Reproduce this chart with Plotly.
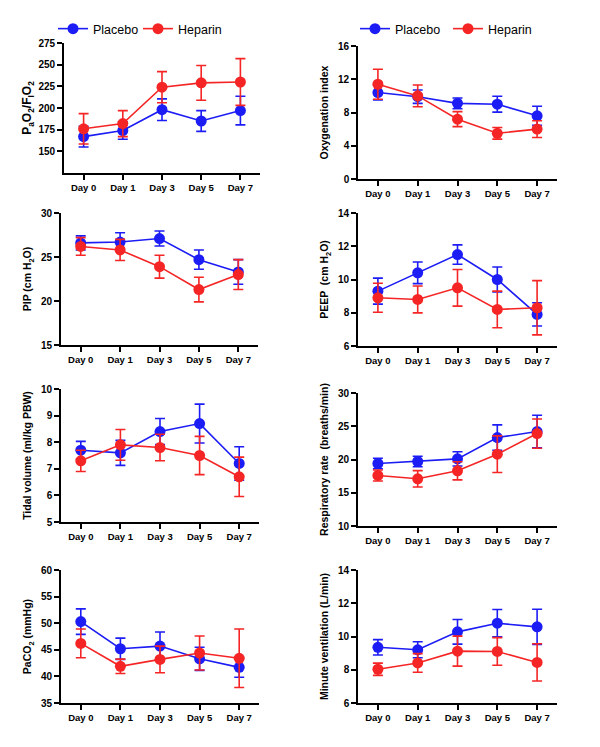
import plotly.graph_objects as go

days = ["Day 0", "Day 1", "Day 3", "Day 5", "Day 7"]

pf_placebo = [167, 174, 198, 185, 197]
pf_placebo_err = [12, 10, 12.5, 12, 16.5]
pf_heparin = [176, 182, 224, 229, 230]
pf_heparin_err = [17.5, 15, 18, 20, 27]

oi_placebo = [10.4, 9.9, 9.1, 9.0, 7.6]
oi_placebo_err = [0.9, 0.8, 0.65, 0.95, 1.15]
oi_heparin = [11.4, 10.0, 7.2, 5.5, 6.0]
oi_heparin_err = [1.8, 1.3, 0.9, 0.7, 1.0]

pip_placebo = [26.6, 26.7, 27.1, 24.7, 23.3]
pip_placebo_err = [0.8, 1.05, 0.85, 1.1, 1.4]
pip_heparin = [26.2, 25.8, 23.9, 21.3, 23.0]
pip_heparin_err = [1.0, 1.2, 1.3, 1.4, 1.7]

peep_placebo = [9.3, 10.4, 11.5, 10.0, 7.9]
peep_placebo_err = [0.78, 0.65, 0.58, 0.75, 0.7]
peep_heparin = [8.9, 8.8, 9.5, 8.2, 8.3]
peep_heparin_err = [0.87, 0.81, 1.1, 1.1, 1.63]

vt_placebo = [7.7, 7.6, 8.4, 8.7, 7.2]
vt_placebo_err = [0.33, 0.47, 0.49, 0.73, 0.63]
vt_heparin = [7.3, 7.9, 7.8, 7.5, 6.7]
vt_heparin_err = [0.4, 0.58, 0.5, 0.72, 0.74]

rr_placebo = [19.4, 19.7, 20.1, 23.3, 24.2]
rr_placebo_err = [0.78, 0.8, 1.07, 1.9, 2.45]
rr_heparin = [17.6, 17.1, 18.3, 20.8, 23.9]
rr_heparin_err = [0.83, 1.23, 1.37, 2.75, 2.2]

paco2_placebo = [50.3, 45.2, 45.7, 43.3, 41.7]
paco2_placebo_err = [2.4, 2.0, 2.64, 2.17, 1.85]
paco2_heparin = [46.2, 41.9, 43.2, 44.4, 43.4]
paco2_heparin_err = [2.7, 1.35, 2.5, 3.2, 5.5]

mv_placebo = [9.35, 9.2, 10.28, 10.8, 10.58]
mv_placebo_err = [0.46, 0.48, 0.74, 0.82, 1.06]
mv_heparin = [8.03, 8.41, 9.12, 9.1, 8.44]
mv_heparin_err = [0.37, 0.56, 0.9, 0.83, 1.12]

# The page body has an 8px default margin, so the figure is drawn
# 8px in from the top-left corner of the 600x747 window.
OFF = 8
W, H = 600 - OFF, 747 - OFF
BLUE = "#1c1cf5"
RED = "#f52525"
FONT = "Arial, Liberation Sans, sans-serif"


def xd(px):
    return (px - OFF) / W


def yd(py):
    return 1 - (py - OFF) / H


panels = [
    dict(title="P<sub>a</sub>O<sub>2</sub>/F<sub>I</sub>O<sub>2</sub>", rng=[125, 275],
         ticks=[150, 175, 200, 225, 250, 275], p=pf_placebo, pe=pf_placebo_err,
         h=pf_heparin, he=pf_heparin_err, box=(64, 260, 43, 173), tsize=12, so=4,
         legends=("legend", "legend3")),
    dict(title="Oxygenation index", rng=[0, 16], ticks=[0, 4, 8, 12, 16],
         p=oi_placebo, pe=oi_placebo_err, h=oi_heparin, he=oi_heparin_err,
         box=(358, 557, 46, 179), tsize=10.5, so=7, legends=("legend2", "legend4")),
    dict(title="PIP (cm H<sub>2</sub>O)", rng=[15, 30], ticks=[15, 20, 25, 30],
         p=pip_placebo, pe=pip_placebo_err, h=pip_heparin, he=pip_heparin_err,
         box=(61, 258, 213, 345), tsize=10.5, so=7),
    dict(title="PEEP  (cm H<sub>2</sub>O)", rng=[6, 14], ticks=[6, 8, 10, 12, 14],
         p=peep_placebo, pe=peep_placebo_err, h=peep_heparin, he=peep_heparin_err,
         box=(358, 557, 213, 346), tsize=10.5, so=7),
    dict(title="Tidal volume (ml/kg PBW)", rng=[5, 10], ticks=[5, 6, 7, 8, 9, 10],
         p=vt_placebo, pe=vt_placebo_err, h=vt_heparin, he=vt_heparin_err,
         box=(61, 259, 389, 522), tsize=10.5, so=7),
    dict(title="Respiratory rate  (breaths/min)", rng=[10, 30], ticks=[10, 15, 20, 25, 30],
         p=rr_placebo, pe=rr_placebo_err, h=rr_heparin, he=rr_heparin_err,
         box=(358, 557, 393, 526), tsize=10.5, so=7),
    dict(title="PaCO<sub>2</sub> (mmHg)", rng=[35, 60], ticks=[35, 40, 45, 50, 55, 60],
         p=paco2_placebo, pe=paco2_placebo_err, h=paco2_heparin, he=paco2_heparin_err,
         box=(61, 259, 570, 703), tsize=10.5, so=7),
    dict(title="Minute ventilation (L/min)", rng=[6, 14], ticks=[6, 8, 10, 12, 14],
         p=mv_placebo, pe=mv_placebo_err, h=mv_heparin, he=mv_heparin_err,
         box=(358, 557, 570, 703), tsize=10.5, so=7),
]

fig = go.Figure()
layout = {}

for i, pn in enumerate(panels):
    k = "" if i == 0 else str(i + 1)
    xa, ya = "x" + k, "y" + k
    x0, x1, y0, y1 = pn["box"]
    legs = pn.get("legends", (None, None))
    for (name, vals, errs, col), leg in zip(
            (("Placebo", pn["p"], pn["pe"], BLUE), ("Heparin", pn["h"], pn["he"], RED)),
            legs):
        tr = dict(
            x=days, y=vals, xaxis=xa, yaxis=ya, name=name, mode="lines+markers",
            line=dict(color=col, width=1.6),
            marker=dict(color=col, size=11, line=dict(width=0)),
            error_y=dict(type="data", array=errs, visible=True, color=col,
                         thickness=1.6, width=5),
            showlegend=leg is not None,
        )
        if leg is not None:
            tr["legend"] = leg
        fig.add_trace(go.Scatter(**tr))
    layout["xaxis" + k] = dict(
        domain=[xd(x0), xd(x1)], anchor=ya, type="category",
        categoryorder="array", categoryarray=days, range=[-0.5, 4.5],
        showline=True, linecolor="black", linewidth=1.6, ticks="outside",
        ticklen=5, tickwidth=1.5, tickcolor="black", showgrid=False, zeroline=False,
        automargin=False,
        tickfont=dict(family=FONT, size=9.5, color="black", weight="bold"),
    )
    layout["yaxis" + k] = dict(
        domain=[yd(y1), yd(y0)], anchor=xa, range=pn["rng"],
        tickvals=pn["ticks"], showline=True, linecolor="black", linewidth=1.6,
        ticks="outside", ticklen=5, tickwidth=1.5, tickcolor="black",
        showgrid=False, zeroline=False, automargin=False,
        tickfont=dict(family=FONT, size=10, color="black", weight="bold"),
        title=dict(text=pn["title"], standoff=pn["so"],
                   font=dict(family=FONT, size=pn["tsize"], color="black", weight="bold")),
    )

legend_common = dict(orientation="h", yanchor="middle", xanchor="left",
                     font=dict(family=FONT, size=12.5, color="black"),
                     bgcolor="rgba(0,0,0,0)", itemwidth=30)
layout["legend"] = dict(x=xd(53), y=yd(29), **legend_common)
layout["legend3"] = dict(x=xd(138), y=yd(29), **legend_common)
layout["legend2"] = dict(x=xd(355), y=yd(29), **legend_common)
layout["legend4"] = dict(x=xd(448), y=yd(29), **legend_common)

fig.update_layout(**layout)
fig.update_layout(width=W, height=H,
                  margin=dict(l=0, r=0, t=0, b=0, pad=0, autoexpand=False),
                  plot_bgcolor="white", paper_bgcolor="white", autosize=False)

fig.write_html("out.html")
